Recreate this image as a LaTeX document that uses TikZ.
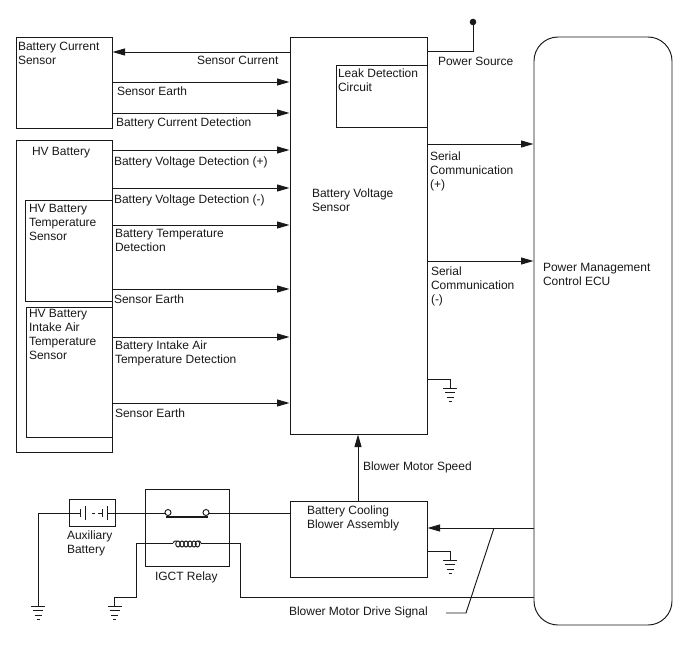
\documentclass[tikz,border=0pt]{standalone}
\usepackage{fontspec}
\setmainfont{Liberation Sans}
\usetikzlibrary{arrows.meta}
\tikzset{
  wire/.style={line width=0.95pt,draw=black!90},
  arr/.style={wire,-{Triangle[length=12.5pt,width=7pt]},shorten >=0.5pt},
  box/.style={wire,anchor=north west,inner sep=0pt,outer sep=0pt},
  txt/.style={anchor=north west,inner sep=0pt,outer sep=0pt,align=left,text=black!90,
    font=\fontsize{12}{14}\selectfont,execute at begin node=\strut},
  gnd/.pic={
    \draw[wire] (-7,0) -- (7,0) (-5,4.5) -- (5,4.5) (-3.5,9) -- (3.5,9) (-1.5,13) -- (1.5,13);
  }
}
\begin{document}
\begin{tikzpicture}[x=1pt,y=-1pt]
\useasboundingbox[fill=white] (0,0) rectangle (688,658);

% Component blocks
\node[box,minimum width=96pt,minimum height=91pt] (bcs) at (16,37) {};
\node[box,minimum width=96pt,minimum height=312pt] (hv) at (16,140) {};
\node[box,minimum width=87pt,minimum height=101.5pt] (tmp) at (25,200) {};
\node[box,minimum width=86pt,minimum height=130.5pt] (air) at (26,307) {};
\node[box,minimum width=137pt,minimum height=397pt] (bvs) at (290,37) {};
\node[box,minimum width=91pt,minimum height=62pt] (leak) at (336,65) {};
\node[box,minimum width=138pt,minimum height=588pt,rounded corners=24pt] (ecu) at (534,37) {};
\node[box,minimum width=137pt,minimum height=76pt] (fan) at (290,501) {};
\node[box,minimum width=84pt,minimum height=77pt] (relay) at (145,489) {};
\node[box,minimum width=46pt,minimum height=27pt] (aux) at (69,499) {};

% Signals into the voltage sensor
\draw[arr] (bvs.west |- 0,52) -- (bcs.east |- 0,52);
\foreach \yy in {82,113} \draw[arr] (bcs.east |- 0,\yy) -- (bvs.west |- 0,\yy);
\foreach \yy in {150,188,225,289,337,403} \draw[arr] (hv.east |- 0,\yy) -- (bvs.west |- 0,\yy);

% Serial lines to the ECU
\draw[arr] (bvs.east |- 0,144) -- (ecu.west |- 0,144);
\draw[arr] (bvs.east |- 0,261) -- (ecu.west |- 0,261);

% Power source terminal
\coordinate (pwr) at (473,22);
\fill[black!90] (pwr) circle (3.3pt);
\draw[wire] (bvs.east |- 0,51) -| (pwr);

% Sensor and blower earths
\coordinate (g1) at (450,388);
\coordinate (g2) at (450,560);
\coordinate (g3) at (38,606);
\coordinate (g4) at (114.5,606);
\draw[wire] (bvs.east |- 0,379) -| (g1);
\pic at (g1) {gnd};
\draw[wire] (fan.east |- 0,551) -| (g2);
\pic at (g2) {gnd};
\pic at (g3) {gnd};
\pic at (g4) {gnd};

% Blower speed and drive
\draw[arr] (fan.north -| 358,0) -- (bvs.south -| 358,0);
\draw[arr] (ecu.west |- 0,528) -- (fan.east |- 0,528);
\coordinate (lead) at (494,528);
\coordinate (leadknee) at (466,613);
\coordinate (leadend) at (446,613);
\draw[wire] (lead) -- (leadknee) -- (leadend);

% Battery cell symbol and earth return
\coordinate (cellL) at (80,513);
\coordinate (cellR) at (107,513);
\draw[wire] (g3) |- (cellL);
\draw[wire] (80,509) -- (80,517) (85,506) -- (85,520);
\draw[wire] (92,513) -- (95,513) (98,513) -- (102,513);
\draw[wire] (102,509) -- (102,517) (107,506) -- (107,520);

% Relay contact
\coordinate (ca) at (168,512.5);
\coordinate (cb) at (206,512.5);
\draw[wire] (cellR) -- (165,513);
\draw[wire] (ca) circle (3pt) (cb) circle (3pt);
\draw[wire,line width=1.5pt] (166,516.8) -- (208,516.8);
\draw[wire] (209,513) -- (fan.west |- 0,513);

% Relay coil
\coordinate (coilL) at (173,543);
\coordinate (coilR) at (201,543);
\draw[wire] (g4) |- (136,597) |- (coilL);
\draw[wire] (coilL) .. controls (174,541) and (175,540.5) .. (177,541);
\foreach \xx in {178,182,186,190,194,197.5} \draw[wire] (\xx,544) ellipse (2.3pt and 3pt);
\draw[wire] (198,541) .. controls (199.5,540.5) and (200,541) .. (coilR);
\coordinate (drive) at (ecu.west |- 0,597);
\draw[wire] (coilR) -| (240,597) -- (drive);

% Labels
\node[txt] (t1) at (18,42) {Battery Current\\Sensor};
\node[txt] (t2) at (197,55) {Sensor Current};
\node[txt] (t3) at (117,86) {Sensor Earth};
\node[txt] (t4) at (116,117) {Battery Current Detection};
\node[txt] (t5) at (32,146) {HV Battery};
\node[txt] (t6) at (114,156) {Battery Voltage Detection (+)};
\node[txt] (t7) at (114,194) {Battery Voltage Detection (-)};
\node[txt] (t8) at (29,204) {HV Battery\\Temperature\\Sensor};
\node[txt] (t9) at (115,229) {Battery Temperature\\Detection};
\node[txt] (t10) at (114,294) {Sensor Earth};
\node[txt] (t11) at (29,309) {HV Battery\\Intake Air\\Temperature\\Sensor};
\node[txt] (t12) at (115,341) {Battery Intake Air\\Temperature Detection};
\node[txt] (t13) at (115,408) {Sensor Earth};
\node[txt] (t14) at (312,189) {Battery Voltage\\Sensor};
\node[txt] (t15) at (338,69) {Leak Detection\\Circuit};
\node[txt] (t16) at (438,56) {Power Source};
\node[txt] (t17) at (430,152) {Serial\\Communication\\(+)};
\node[txt] (t18) at (431,267) {Serial\\Communication\\(-)};
\node[txt] (t19) at (543,263) {Power Management\\Control ECU};
\node[txt] (t20) at (363,461) {Blower Motor Speed};
\node[txt] (t21) at (307,506) {Battery Cooling\\Blower Assembly};
\node[txt] (t22) at (289,606) {Blower Motor Drive Signal};
\node[txt] (t23) at (67,531) {Auxiliary\\Battery};
\node[txt] (t24) at (155,571) {IGCT Relay};
\end{tikzpicture}
\end{document}
